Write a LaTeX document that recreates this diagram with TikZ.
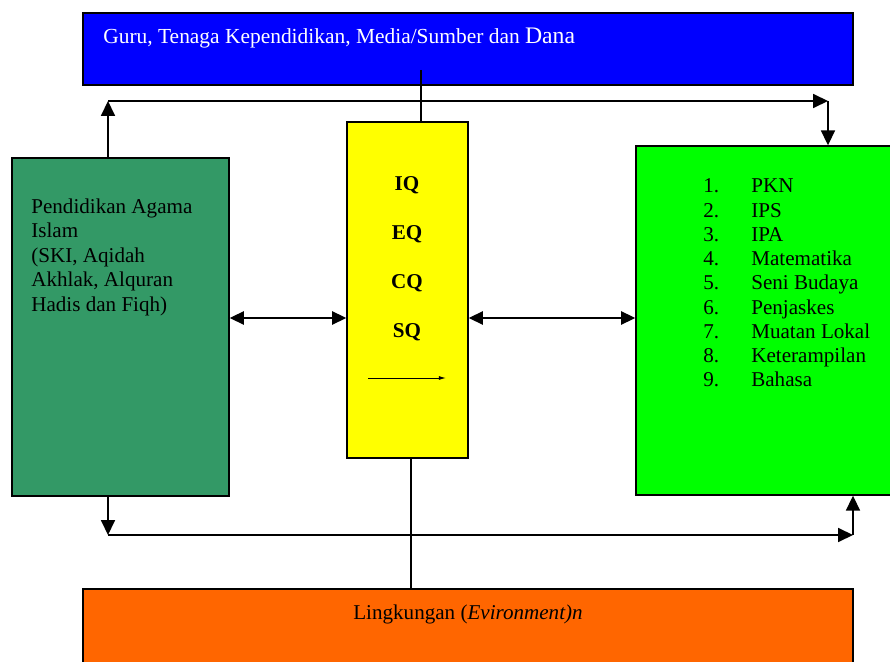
\documentclass[tikz,border=0pt]{standalone}
\usepackage{fontspec}
\setmainfont{Liberation Serif}
\usetikzlibrary{arrows.meta,fit}
\definecolor{biru}{RGB}{0,0,255}
\definecolor{kuning}{RGB}{255,255,0}
\definecolor{hijautua}{RGB}{51,153,102}
\definecolor{hijau}{RGB}{0,255,0}
\definecolor{oranye}{RGB}{255,102,0}

\begin{document}
\begin{tikzpicture}[x=0.02cm, y=-0.02cm,
        kotak/.style={draw, line width=0.8pt, inner sep=0pt},
        teks/.style={font=\fontsize{12}{13.95}\selectfont, inner sep=0pt},
        garis/.style={line width=0.8pt},
        panah/.style={line width=0.8pt, -{Triangle[length=8.5pt,width=8pt]}},
        dua/.style={line width=0.8pt, {Triangle[length=8pt,width=7.5pt]}-{Triangle[length=8pt,width=7.5pt]}}]
        \useasboundingbox (0,0) rectangle (890,662);

        % kotak-kotak
        \node[kotak, fill=biru, fit={(83,13) (853,85)}] (sdm) {};
        \node[kotak, fill=kuning, fit={(347,122) (468,458)}] (kecerdasan) {};
        \node[kotak, fill=hijautua, fit={(12,158) (229,496)}] (pai) {};
        \node[kotak, fill=hijau, fit={(636,146) (896,495)}] (mapel) {};
        \node[kotak, fill=oranye, fit={(83,589) (853,668)}] (lingkungan) {};

        % teks
        \node[teks, font=\fontsize{12.2}{14}\selectfont, text=white, anchor=west] (tsdm) at (103,38) {Guru, Tenaga Kependidikan, Media/Sumber dan {\fontsize{13.5}{14}\selectfont Dana}};
        \node[teks, anchor=west, align=left] (tpai) at (31,257) {Pendidikan Agama\\Islam\\(SKI, Aqidah\\Akhlak, Alquran\\Hadis dan Fiqh)};
        \foreach \i/\q in {0/IQ, 1/EQ, 2/CQ, 3/SQ}
            \node[teks, font=\fontsize{12}{13.95}\selectfont\bfseries, anchor=base] (q\i) at (407, {191+48.7*\i}) {\q};
        \foreach \i/\t in {1/PKN, 2/IPS, 3/IPA, 4/Matematika, 5/Seni Budaya, 6/Penjaskes, 7/Muatan Lokal, 8/Keterampilan, 9/Bahasa}
            \node[teks, anchor=base west] (m\i) at (703, {193+24.25*(\i-1)}) {\makebox[27.3pt][l]{\i.}\t};
        \node[teks] (tling) at (468,614) {Lingkungan (\textit{Evironment)n}};

        % penghubung
        \coordinate (s1) at (421,70);
        \coordinate (s2) at (411,458);
        \draw[garis] (s1) -- (s1 |- kecerdasan.north);
        \draw[garis] (s2) -- (s2 |- lingkungan.north);

        \coordinate (ak) at (108,101);
        \coordinate (an) at (828,101);
        \draw[panah] (pai.north -| ak) -- (ak);
        \draw[panah] (ak) -- (an);
        \draw[panah] (an) -- (an |- mapel.north);

        \coordinate (bk) at (108,535);
        \coordinate (bn) at (853,535);
        \draw[panah] (pai.south -| bk) -- (bk);
        \draw[panah] (bk) -- (bn);
        \draw[panah] (bn) -- (bn |- mapel.south);

        \coordinate (tengah) at (407,318);
        \draw[dua] (pai.east |- tengah) -- (kecerdasan.west |- tengah);
        \draw[dua] (kecerdasan.east |- tengah) -- (mapel.west |- tengah);

        \coordinate (p1) at (368,378);
        \coordinate (p2) at (446,378);
        \draw[line width=0.5pt, -{Latex[length=4pt,width=2.2pt]}] (p1) -- (p2);
\end{tikzpicture}
\end{document}
